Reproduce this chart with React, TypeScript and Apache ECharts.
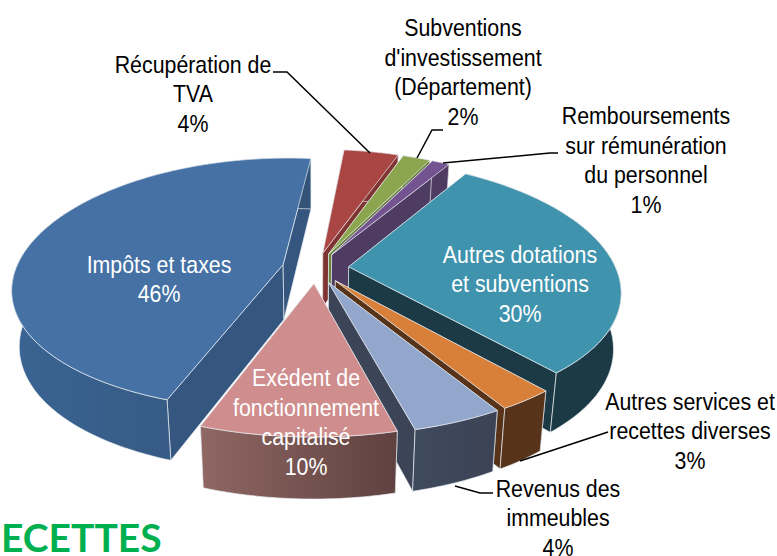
import React, { useEffect, useRef } from "react";
import * as echarts from "echarts";

// clockwise from the first slice
const categories = [
  "Autres dotations\net subventions",
  "Autres services et\nrecettes diverses",
  "Revenus des\nimmeubles",
  "Exédent de\nfonctionnement\ncapitalisé",
  "Impôts et taxes",
  "Récupération de\nTVA",
  "Subventions\nd'investissement\n(Département)",
  "Remboursements\nsur rémunération\ndu personnel",
];
const values = [29.85, 2.8, 4.49, 9.55, 46.09, 3.95, 2, 1.27];
const drawOrder = [4, 5, 6, 7, 0, 1, 2, 3];
const topColors = ["#3f93ad", "#d87f39", "#93a7cd", "#cf8e8d", "#4571a5", "#a94643", "#8ba64f", "#735390"];
const wallColors = ["#1b3a45", "#57331a", "#3c4557", "#6d4c4a", "#34567f", "#803432", "#687f3c", "#4f3c63"];
const arcLeft = ["#1b3a45", "#57331a", "#3e4a5e", "#8f6763", "#3a6493", "#803432", "#687f3c", "#4f3c63"];
const arcRight = ["#1b3a45", "#57331a", "#3c4354", "#5f4140", "#335377", "#803432", "#687f3c", "#4f3c63"];
const labelColors = ["#ffffff", "#000000", "#000000", "#ffffff", "#ffffff", "#000000", "#000000", "#000000"];
const labelCenters = [[520, 284], [690, 431], [558, 518], [306, 422], [159, 279], [193, 94], [463, 72], [646, 160]];
const leaders = [
  [[608, 432], [520, 461]],
  [[493, 493], [480, 493], [455, 486]],
  [[273, 72], [287, 72], [370, 153]],
  [[443, 130], [432, 130], [417, 158]],
  [[558, 153], [550, 153], [443, 163]],
];

const START = 31.8;
const EXPLODE = 0.125;
const PIE = { cx: 315.5, cy: 268, a: 267, b: 124, kx: 0.185, ky: 0.155, dy: 55, sx: 0.975, sy: 1.042 };
const total = values.reduce((s, v) => s + v, 0);
const rad = (d: number) => (d * Math.PI) / 180;

function project(X: number, Y: number, bottom: boolean): number[] {
  const x = (PIE.a * X) / (1 + PIE.kx * Y);
  const y = (PIE.b * Y) / (1 + PIE.ky * Y);
  return bottom
    ? [PIE.cx + x * PIE.sx, PIE.cy + PIE.dy - y * PIE.sy]
    : [PIE.cx + x, PIE.cy - y];
}

function renderSlice(_params: any, api: any) {
  const index = api.value(1);
  let from = START;
  for (let i = 0; i < index; i++) from += (values[i] / total) * 360;
  const to = from + (api.value(0) / total) * 360;
  const mid = rad((from + to) / 2);
  const ox = EXPLODE * Math.sin(mid);
  const oy = EXPLODE * Math.cos(mid);
  const arcTop: number[][] = [];
  const arcBot: number[][] = [];
  const n = Math.max(6, Math.ceil(to - from));
  for (let i = 0; i <= n; i++) {
    const t = rad(from + ((to - from) * i) / n);
    const X = ox + Math.sin(t);
    const Y = oy + Math.cos(t);
    arcTop.push(project(X, Y, false));
    arcBot.push(project(X, Y, true));
  }
  const apexTop = project(ox, oy, false);
  const apexBot = project(ox, oy, true);
  const edge = { stroke: "rgba(235,240,245,0.75)", lineWidth: 0.9, lineJoin: "round" };
  const wall = wallColors[index];
  const poly = (points: number[][], fill: any) => ({ type: "polygon", shape: { points }, style: { fill, ...edge } });
  return {
    type: "group",
    children: [
      poly([apexTop, arcTop[0], arcBot[0], apexBot], wall),
      poly([apexTop, arcTop[n], arcBot[n], apexBot], wall),
      poly(
        [...arcTop, ...arcBot.slice().reverse()],
        new echarts.graphic.LinearGradient(0, 0, 1, 0, [
          { offset: 0, color: arcLeft[index] },
          { offset: 1, color: arcRight[index] },
        ])
      ),
      poly([apexTop, ...arcTop], topColors[index]),
    ],
  };
}

const FONT = '"Liberation Sans", Arial, sans-serif';

export default function App() {
  const ref = useRef<HTMLDivElement>(null);
  useEffect(() => {
    const chart = echarts.init(ref.current!, null, { renderer: "svg" });
    chart.setOption({
      animation: false,
      backgroundColor: "#ffffff",
      series: [
        {
          type: "custom",
          coordinateSystem: "none",
          silent: true,
          renderItem: renderSlice,
          data: drawOrder.map((i) => [values[i], i]),
        },
      ],
      graphic: [
        ...leaders.map((points) => ({
          type: "polyline",
          z: 50,
          silent: true,
          shape: { points },
          style: { stroke: "#000000", lineWidth: 1.5, fill: "none" },
        })),
        ...categories.map((c, i) => ({
          type: "text",
          z: 60,
          silent: true,
          x: labelCenters[i][0],
          y: labelCenters[i][1],
          scaleX: 0.89,
          style: {
            text: `${c}\n${Math.round(values[i])}%`,
            font: `24px ${FONT}`,
            lineHeight: 29.5,
            fill: labelColors[i],
            textAlign: "center",
            textVerticalAlign: "middle",
          },
        })),
        {
          type: "text",
          z: 60,
          silent: true,
          x: 1,
          y: 537,
          style: {
            text: "ECETTES",
            font: 'bold 39px Lato, "Open Sans", sans-serif',
            fill: "#00b050",
            textAlign: "left",
            textVerticalAlign: "middle",
          },
        },
      ],
    });
    return () => chart.dispose();
  }, []);
  return <div ref={ref} style={{ position: "absolute", left: 0, top: 0, width: 777, height: 556 }} />;
}
